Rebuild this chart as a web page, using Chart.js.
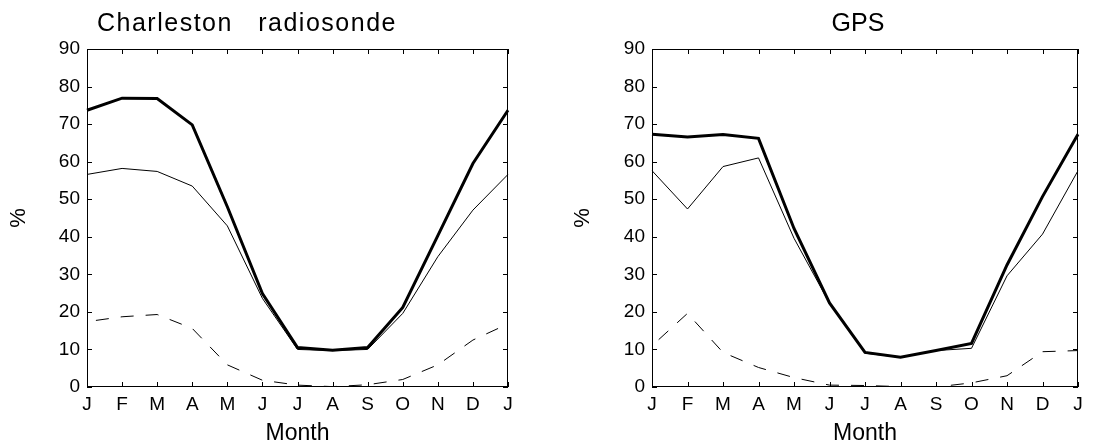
<!DOCTYPE html>
<html>
<head>
<meta charset="utf-8">
<title>Charleston radiosonde / GPS</title>
<script src="https://cdn.jsdelivr.net/npm/chart.js@4.4.1/dist/chart.umd.min.js"></script>
<style>
    html, body { margin: 0; padding: 0; background: #ffffff; }
    #wrap { position: relative; width: 1113px; height: 445px; }
    #chart-left { position: absolute; left: 0; top: 0; }
    #chart-right { position: absolute; left: 556px; top: 0; }
</style>
</head>
<body>
<div id="wrap">
    <canvas id="chart-left" width="556" height="445"></canvas>
    <canvas id="chart-right" width="557" height="445"></canvas>
</div>
<script>
// month axis, J..D plus January again
const monthLabels = ['J', 'F', 'M', 'A', 'M', 'J', 'J', 'A', 'S', 'O', 'N', 'D', 'J'];
const yTickValues = [0, 10, 20, 30, 40, 50, 60, 70, 80, 90];

// Charleston radiosonde (%)
const sondeThick  = [73.7, 76.9, 76.8, 69.8, 48.0, 24.9, 10.5, 9.8, 10.5, 21.2, 40.3, 59.5, 73.7];
const sondeThin   = [56.6, 58.2, 57.4, 53.5, 42.9, 23.6, 10.0, 9.7, 10.0, 19.6, 34.7, 47.1, 56.6];
const sondeDashed = [17.4, 18.7, 19.3, 15.6, 5.9, 1.8, 0.5, 0.1, 0.6, 2.0, 5.9, 12.5, 16.8];

// GPS (%)
const gpsThick  = [67.3, 66.6, 67.2, 66.2, 42.2, 22.4, 9.2, 7.9, 9.7, 11.6, 32.5, 50.7, 67.3];
const gpsThin   = [57.6, 47.4, 58.7, 61.0, 39.6, 22.3, 9.0, 7.9, 9.7, 10.3, 29.6, 40.7, 57.6];
const gpsDashed = [11.0, 19.6, 9.2, 5.2, 2.5, 0.5, 0.4, 0.1, 0.0, 1.1, 3.0, 9.4, 9.7];

const FONT = '"Liberation Sans", Arial, sans-serif';
// -------------------------------------------------------------------------------------------
// box around the plot with inward ticks on all four sides
const frameTicks = {
    id: 'frameTicks',
    afterDatasetsDraw(chart) {
        const {ctx, chartArea: a, scales: {x, y}} = chart;
        const len = 5;
        ctx.save();
        ctx.strokeStyle = '#000000';
        ctx.lineWidth = 1;
        ctx.strokeRect(a.left + 0.5, a.top + 0.5, a.right - a.left - 1, a.bottom - a.top - 1);
        ctx.beginPath();
        monthLabels.forEach((m, i) => {
            const px = Math.round(x.getPixelForValue(i)) + 0.5;
            ctx.moveTo(px, a.bottom);
            ctx.lineTo(px, a.bottom - len);
            ctx.moveTo(px, a.top);
            ctx.lineTo(px, a.top + len);
        });
        yTickValues.forEach((v) => {
            const py = Math.round(y.getPixelForValue(v)) + 0.5;
            ctx.moveTo(a.left, py);
            ctx.lineTo(a.left + len, py);
            ctx.moveTo(a.right, py);
            ctx.lineTo(a.right - len, py);
        });
        ctx.stroke();
        ctx.restore();
    }
};
// -------------------------------------------------------------------------------------------
const panelTitle = {
    id: 'panelTitle',
    afterDraw(chart, args, opts) {
        const ctx = chart.ctx;
        ctx.save();
        ctx.fillStyle = '#000000';
        ctx.font = '25px ' + FONT;
        ctx.letterSpacing = opts.spacing;
        ctx.textAlign = opts.align;
        ctx.textBaseline = 'alphabetic';
        ctx.fillText(opts.text, opts.x, 31);
        ctx.restore();
    }
};
// -------------------------------------------------------------------------------------------
function drawPanel(canvasId, thick, thin, dashed, cfg)
{
    const data = {
        labels: monthLabels,
        datasets: [
            { data: thick,  borderColor: '#000000', borderWidth: 3,   pointRadius: 0, tension: 0, fill: false },
            { data: thin,   borderColor: '#000000', borderWidth: 1,   pointRadius: 0, tension: 0, fill: false },
            { data: dashed, borderColor: '#000000', borderWidth: 1,   pointRadius: 0, tension: 0, fill: false,
              borderDash: [13, 12], borderDashOffset: 16 }
        ]
    };

    const options = {
        responsive: false,
        animation: false,
        events: [],
        layout: {
            padding: { left: 0, top: 49, right: cfg.padRight, bottom: 0 }
        },
        plugins: {
            legend: { display: false },
            tooltip: { enabled: false },
            panelTitle: { text: cfg.title, x: cfg.titleX, align: cfg.titleAlign, spacing: cfg.titleSpacing }
        },
        scales: {
            x: {
                type: 'category',
                offset: false,
                grid: { display: false, drawTicks: false },
                border: { display: false },
                ticks: {
                    color: '#000000',
                    font: { family: FONT, size: 19 },
                    padding: 6,
                    autoSkip: false,
                    maxRotation: 0
                },
                title: {
                    display: true,
                    text: 'Month',
                    color: '#000000',
                    font: { family: FONT, size: 23, lineHeight: 1 },
                    padding: { top: 0, bottom: 0 }
                },
                afterFit: (scale) => { scale.height = 58; }
            },
            y: {
                min: 0,
                max: 90,
                grid: { display: false, drawTicks: false },
                border: { display: false },
                ticks: {
                    stepSize: 10,
                    color: '#000000',
                    font: { family: FONT, size: 19 },
                    padding: 7
                },
                title: {
                    display: true,
                    text: '%',
                    color: '#000000',
                    font: { family: FONT, size: 22, lineHeight: 1.2 },
                    padding: { top: cfg.pctPad, bottom: 0 }
                },
                afterFit: (scale) => { scale.width = cfg.axisWidth; }
            }
        }
    };

    new Chart(document.getElementById(canvasId), {
        type: 'line',
        data: data,
        options: options,
        plugins: [frameTicks, panelTitle]
    });
}
// -------------------------------------------------------------------------------------------
drawPanel('chart-left', sondeThick, sondeThin, sondeDashed, {
    title: 'Charleston   radiosonde', titleX: 97, titleAlign: 'left', titleSpacing: '1.5px',
    axisWidth: 87, padRight: 48, pctPad: 6
});
drawPanel('chart-right', gpsThick, gpsThin, gpsDashed, {
    title: 'GPS', titleX: 302, titleAlign: 'center', titleSpacing: '0px',
    axisWidth: 96, padRight: 35, pctPad: 14
});
</script>
</body>
</html>
